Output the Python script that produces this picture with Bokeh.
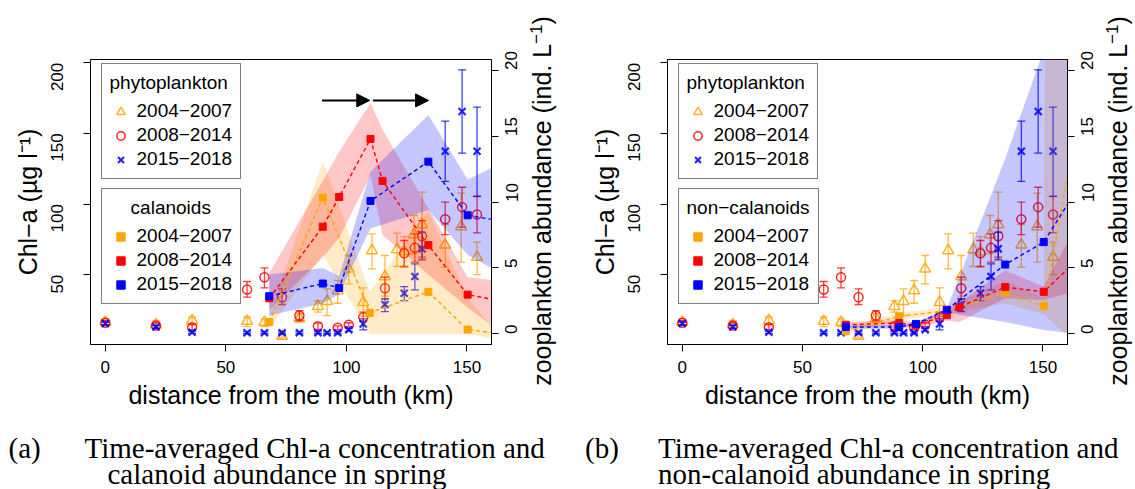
import math
from bokeh.plotting import figure
from bokeh.models import (Range1d, LinearAxis, FixedTicker, Legend, LegendItem,
                          Label, Arrow, NormalHead, Div)
from bokeh.layouts import row, column
from bokeh.embed import file_html
from bokeh.resources import INLINE

# ---------------- data ----------------
periods = ["2004\u22122007", "2008\u22122014", "2015\u22122018"]

# phytoplankton Chl-a (ug/l), same in both panels
phy_km_o = [0, 21, 36, 58.8, 66, 73.3, 80.5, 88.2, 92, 96.4, 101, 107, 110.6, 116, 121, 124, 128, 131.4, 141, 147.6, 154.2]
phy_o = [16.4, 14.7, 17.6, 17.1, 16.4, 6.5, 19.2, 27.7, 31.2, 38.8, 54.1, 30.5, 67.1, 48.7, 67.8, 66.4, 78.4, 85.5, 71.1, 84.1, 62.4]
phy_o_lo = [14.5, 12.0, 14.7, 13.3, 13.3, 5.3, 16.4, 23.5, 21.1, 29.8, 43.5, 20.6, 54.1, 34.8, 55.8, 55.3, 64.7, 61.2, 55.3, 58.9, 50.1]
phy_o_hi = [18.5, 17.5, 19.9, 19.9, 18.7, 8.1, 22.3, 31.7, 40.0, 45.9, 63.6, 40.7, 78.9, 63.6, 79.4, 77.0, 91.9, 108.4, 85.5, 107.7, 73.0]

phy_km_r = [0, 21, 36, 58.8, 66, 73.3, 80.5, 88.2, 96.4, 101, 107, 116, 124, 128.4, 131.4, 141, 148, 154.2]
phy_r = [16.0, 14.0, 12.8, 39.5, 48.2, 34.1, 21.1, 13.5, 12.4, 14.5, 19.9, 40.4, 65.2, 69.0, 77.2, 89.3, 97.8, 92.6]
phy_r_lo = [14.5, 12.0, 11.0, 34.1, 40.7, 28.9, 17.6, 11.2, 11.0, 13.0, 17.1, 32.9, 55.8, 58.9, 62.4, 78.4, 83.6, 79.6]
phy_r_hi = [17.5, 16.0, 14.6, 45.2, 54.8, 40.0, 24.6, 15.7, 13.8, 16.0, 23.5, 48.2, 74.2, 78.9, 88.3, 101.3, 111.9, 105.3]

phy_km_b = [0, 21, 36, 58.8, 66, 73.3, 80.5, 88.2, 92, 96.4, 101, 107, 116, 124, 128.4, 131.4, 141, 148, 154.2]
phy_b = [15.5, 13.0, 9.3, 8.9, 8.9, 8.9, 8.9, 8.9, 8.9, 8.9, 11.0, 15.2, 28.9, 36.9, 48.7, 68.3, 137.4, 165.5, 137.4]
phy_b_lo = [14.5, 12.0, 8.5, 8.2, 8.2, 8.2, 8.2, 8.2, 8.2, 8.2, 10.0, 11.0, 23.9, 31.7, 39.3, 60.5, 116.0, 136.0, 105.6]
phy_b_hi = [16.5, 14.0, 10.1, 9.6, 9.6, 9.6, 9.6, 9.6, 9.6, 9.6, 12.0, 18.8, 32.9, 41.6, 57.7, 80.1, 158.7, 195.0, 168.6]

# calanoids (ind./L), panel a
cal_km_o = [68, 90.2, 109.7, 134, 150.3, 165]
cal_o = [0.9, 10.33, 1.6, 3.19, 0.33, 0.0]
cal_o_lo = [0.4, 6.0, 0.0, 0.0, 0.0, -0.5]
cal_o_hi = [1.4, 13.1, 3.2, 9.3, 2.7, -0.4]

cal_km_r = [68, 90.2, 97, 110, 115, 134, 150.3, 165]
cal_r = [2.7, 8.13, 10.38, 14.78, 11.6, 6.73, 2.98, 2.48]
cal_r_lo = [1.8, 5.8, 7.3, 12.0, 7.5, 4.5, 2.0, 0.0]
cal_r_hi = [4.6, 11.6, 13.8, 17.5, 15.5, 9.5, 4.3, 4.0]

cal_km_b = [68, 90.2, 97, 110, 134, 150.3, 165]
cal_b = [2.86, 3.82, 3.49, 10.08, 13.06, 8.99, 8.54]
cal_b_lo = [1.4, 2.3, 3.0, 8.0, 9.4, 6.0, 4.5]
cal_b_hi = [4.5, 5.0, 4.4, 12.3, 16.6, 11.7, 13.0]

# non-calanoids (ind./L), panel b
nc_km_o = [68, 90.2, 110, 134.3, 150.3, 165]
nc_o = [0.2, 1.34, 1.75, 3.12, 2.1, 16.7]
nc_o_lo = [0.0, 1.1, 1.5, 2.3, 1.5, -1.0]
nc_o_hi = [0.45, 1.6, 2.05, 4.0, 2.7, 600.0]

nc_km_r = [68, 90.2, 97, 110, 115.2, 134.3, 150.3, 165]
nc_r = [0.7, 0.83, 0.65, 1.42, 2.03, 3.55, 3.19, 5.73]
nc_r_lo = [0.55, 0.6, 0.45, 1.0, 0.9, 2.7, 2.6, 3.3]
nc_r_hi = [0.9, 1.05, 0.85, 1.8, 2.4, 4.8, 3.6, 8.6]

nc_km_b = [68, 90.2, 97.2, 110, 134.3, 150.3, 165]
nc_b = [0.53, 0.53, 0.76, 1.83, 5.26, 6.96, 11.2]
nc_b_lo = [0.4, 0.4, 0.6, 1.6, 0.9, 0.3, 0.0]
nc_b_hi = [0.65, 0.65, 0.9, 1.9, 13.3, 21.5, 35.0]

# arrows in panel a (km, zooplankton units)
arrow_x_start = [89.9, 111.0]
arrow_x_end = [109.7, 134.1]
arrow_y = [17.7, 17.7]

x_ticks = [0, 50, 100, 150]
chl_ticks = [50, 100, 150, 200]
zoo_ticks = [0, 5, 10, 15, 20]

# ---------------- style ----------------
SANS = "Liberation Sans"
SERIF = "Liberation Serif"
ORANGE, RED, BLUE = "#FFA500", "#FF0000", "#0000FF"
X0, X1 = -6.16, 160.2
C0, C1 = 0.6, 202.3
Z0, Z1 = -0.8, 20.8
FT, FB = 59, 344
PH = 425      # height of the plot row
CH = 64       # height of the caption row
RB = 40       # right border of each panel (right-axis ticks and labels)


def style_axis(ax, ticks):
    ax.ticker = FixedTicker(ticks=ticks)
    ax.axis_line_color = "black"
    ax.major_tick_line_color = "black"
    ax.major_tick_out = 7
    ax.major_tick_in = 0
    ax.minor_tick_line_color = None
    ax.major_label_text_font = SANS
    ax.major_label_text_font_size = "17px"
    ax.major_label_text_color = "black"
    ax.axis_label_text_font = SANS
    ax.axis_label_text_font_size = "25px"
    ax.axis_label_text_font_style = "normal"
    ax.axis_label_text_color = "black"


def make_legend(items, title, loc):
    lg = Legend(items=items, title=title, location=loc)
    lg.title_text_font = SANS
    lg.title_text_font_size = "19px"
    lg.title_text_font_style = "normal"
    lg.title_text_color = "black"
    lg.title_standoff = 6
    lg.label_text_font = SANS
    lg.label_text_font_size = "19px"
    lg.label_text_color = "black"
    lg.glyph_width = 21
    lg.glyph_height = 21
    lg.label_height = 21
    lg.label_standoff = 6
    lg.spacing = 2
    lg.padding = 8
    lg.margin = 0
    lg.border_line_color = "black"
    lg.border_line_width = 1
    lg.background_fill_alpha = 1
    return lg


def blank(width, height):
    f = figure(width=width, height=height, x_range=Range1d(0, width), y_range=Range1d(height, 0),
               output_backend="svg", toolbar_location=None, x_axis_type=None, y_axis_type=None,
               min_border=0)
    f.outline_line_color = None
    f.xgrid.visible = False
    f.ygrid.visible = False
    return f


def panel(width, fl, fw, zsets, zlegend_title, arrows):
    p = figure(width=width, height=PH, x_range=Range1d(X0, X1), y_range=Range1d(C0, C1),
               output_backend="svg", toolbar_location=None,
               min_border_left=fl, min_border_right=width - fl - fw,
               min_border_top=FT, min_border_bottom=PH - FB)
    p.extra_y_ranges = {"zoo": Range1d(Z0, Z1)}
    p.xgrid.visible = False
    p.ygrid.visible = False
    p.outline_line_color = "black"
    p.outline_line_alpha = 1
    p.outline_line_width = 1
    p.background_fill_color = "white"
    p.border_fill_color = "white"

    xa = p.xaxis[0]
    style_axis(xa, x_ticks)
    xa.axis_label = "distance from the mouth (km)"
    xa.major_label_standoff = 9
    xa.axis_label_standoff = 5

    ya = p.yaxis[0]
    style_axis(ya, chl_ticks)
    ya.axis_label = "Chl\u2212a (\u00b5g l\u207b\u00b9)"
    ya.major_label_orientation = math.pi / 2
    ya.major_label_standoff = 26
    ya.axis_label_standoff = 1

    za = LinearAxis(y_range_name="zoo")
    style_axis(za, zoo_ticks)
    za.major_label_orientation = math.pi / 2
    za.major_label_standoff = 13
    p.add_layout(za, "right")

    # phytoplankton: error bars + open markers
    phy_sets = [
        (phy_km_o, phy_o, phy_o_lo, phy_o_hi, ORANGE, "triangle", 11, 1.5),
        (phy_km_r, phy_r, phy_r_lo, phy_r_hi, RED, "circle", 9, 1.5),
        (phy_km_b, phy_b, phy_b_lo, phy_b_hi, BLUE, "x", 10, 2.2),
    ]
    phy_items = []
    for (km, v, lo, hi, col, mk, sz, lw), lab in zip(phy_sets, periods):
        p.segment(x0=km, y0=lo, x1=km, y1=hi, line_color=col, line_width=1.3, line_alpha=0.75)
        p.scatter(x=km + km, y=lo + hi, marker="dash", size=8, line_color=col,
                  line_width=1.3, line_alpha=0.75)
        r = p.scatter(x=km, y=v, marker=mk, size=sz, fill_color=None, line_color=col,
                      line_width=lw, line_alpha=0.85)
        phy_items.append(LegendItem(label=lab, renderers=[r]))

    # zooplankton bands, dashed lines and squares
    for km, v, lo, hi, col in zsets:
        p.varea(x=km, y1=lo, y2=hi, fill_color=col, fill_alpha=0.22, y_range_name="zoo")
    zoo_items = []
    for (km, v, lo, hi, col), lab in zip(zsets, periods):
        p.line(x=km, y=v, line_color=col, line_dash="4 3", line_width=1.4, y_range_name="zoo")
        r = p.scatter(x=km, y=v, marker="square", size=7, fill_color=col, line_color=col,
                      y_range_name="zoo")
        zoo_items.append(LegendItem(label=lab, renderers=[r]))

    p.add_layout(make_legend(phy_items, "phytoplankton", (10.5, 165)))
    p.add_layout(make_legend(zoo_items, zlegend_title, (10.5, 40)))

    if arrows:
        for xs, xe, yy in zip(arrow_x_start, arrow_x_end, arrow_y):
            p.add_layout(Arrow(end=NormalHead(size=13, fill_color="black", line_color="black"),
                               x_start=xs, y_start=yy, x_end=xe, y_end=yy,
                               y_range_name="zoo", line_color="black", line_width=2))
    return p


def side_title(width, cx):
    cy = (FT + FB) / 2
    html = (
        '<div style="position:relative;width:%dpx;height:%dpx;overflow:visible;margin:0;padding:0;">'
        '<div style="position:absolute;left:%dpx;top:%dpx;width:0;height:0;">'
        '<div style="position:absolute;left:0;top:0;transform:translate(-50%%,-50%%) rotate(-90deg);'
        'white-space:nowrap;font-family:\'Liberation Sans\';font-size:25px;line-height:1.1;'
        'color:black;">zooplankton abundance (ind. L<sup style="font-size:68%%;line-height:0;">'
        '\u22121</sup>)</div></div></div>'
    ) % (width, PH, cx, cy)
    return Div(text=html, width=width, height=PH, margin=(0, 0, 0, 0),
               styles={"overflow": "visible"})


def caption(width, tag, line1, line2, xs):
    c = blank(width, CH)
    for txt, x, y in [(tag, xs[0], 22), (line1, xs[1], 22), (line2, xs[2], 48)]:
        c.add_layout(Label(x=x, y=y, text=txt, text_align="left", text_baseline="alphabetic",
                           text_font=SERIF, text_font_size="29px", text_color="black"))
    return c


p1 = panel(90 + 401 + RB, 90, 401,
           [(cal_km_o, cal_o, cal_o_lo, cal_o_hi, ORANGE),
            (cal_km_r, cal_r, cal_r_lo, cal_r_hi, RED),
            (cal_km_b, cal_b, cal_b_lo, cal_b_hi, BLUE)],
           "\u00a0\u00a0\u00a0\u00a0calanoids", True)
t1 = side_title(567 - (90 + 401 + RB), 12)

p2 = panel(100 + 400 + RB, 100, 400,
           [(nc_km_o, nc_o, nc_o_lo, nc_o_hi, ORANGE),
            (nc_km_r, nc_r, nc_r_lo, nc_r_hi, RED),
            (nc_km_b, nc_b, nc_b_lo, nc_b_hi, BLUE)],
           "non\u2212calanoids", False)
t2 = side_title(568 - (100 + 400 + RB), 12)

c1 = caption(567, "(a)", "Time-averaged Chl-a concentration and", "calanoid abundance in spring",
             [8, 84, 107])
c2 = caption(568, "(b)", "Time-averaged Chl-a concentration and", "non-calanoid abundance in spring",
             [17.6, 90.6, 90.6])

layout = column(row(p1, t1, p2, t2), row(c1, c2))
open("out.html", "w").write(file_html(layout, INLINE))
